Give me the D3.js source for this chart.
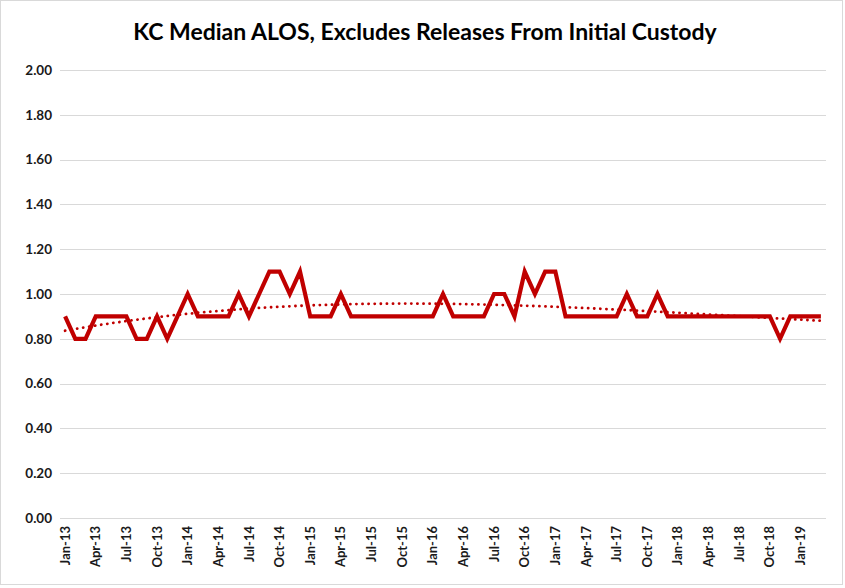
<!DOCTYPE html>
<html>
<head>
<meta charset="utf-8">
<script src="https://cdn.jsdelivr.net/npm/d3@7"></script>
<style>
  html, body { margin: 0; padding: 0; background: #fff; }
  svg { display: block; }
</style>
</head>
<body>
<script>
const title = "KC Median ALOS, Excludes Releases From Initial Custody";

const categories = [
  "Jan-13","Feb-13","Mar-13","Apr-13","May-13","Jun-13","Jul-13","Aug-13","Sep-13","Oct-13","Nov-13","Dec-13",
  "Jan-14","Feb-14","Mar-14","Apr-14","May-14","Jun-14","Jul-14","Aug-14","Sep-14","Oct-14","Nov-14","Dec-14",
  "Jan-15","Feb-15","Mar-15","Apr-15","May-15","Jun-15","Jul-15","Aug-15","Sep-15","Oct-15","Nov-15","Dec-15",
  "Jan-16","Feb-16","Mar-16","Apr-16","May-16","Jun-16","Jul-16","Aug-16","Sep-16","Oct-16","Nov-16","Dec-16",
  "Jan-17","Feb-17","Mar-17","Apr-17","May-17","Jun-17","Jul-17","Aug-17","Sep-17","Oct-17","Nov-17","Dec-17",
  "Jan-18","Feb-18","Mar-18","Apr-18","May-18","Jun-18","Jul-18","Aug-18","Sep-18","Oct-18","Nov-18","Dec-18",
  "Jan-19","Feb-19","Mar-19"
];

const medianALOS = [
  0.9,0.8,0.8,0.9,0.9,0.9,0.9,0.8,0.8,0.9,0.8,0.9,
  1.0,0.9,0.9,0.9,0.9,1.0,0.9,1.0,1.1,1.1,1.0,1.1,
  0.9,0.9,0.9,1.0,0.9,0.9,0.9,0.9,0.9,0.9,0.9,0.9,
  0.9,1.0,0.9,0.9,0.9,0.9,1.0,1.0,0.9,1.1,1.0,1.1,
  1.1,0.9,0.9,0.9,0.9,0.9,0.9,1.0,0.9,0.9,1.0,0.9,
  0.9,0.9,0.9,0.9,0.9,0.9,0.9,0.9,0.9,0.9,0.8,0.9,
  0.9,0.9,0.9
];

const xTickLabels = [
  "Jan-13","Apr-13","Jul-13","Oct-13","Jan-14","Apr-14","Jul-14","Oct-14","Jan-15","Apr-15","Jul-15","Oct-15",
  "Jan-16","Apr-16","Jul-16","Oct-16","Jan-17","Apr-17","Jul-17","Oct-17","Jan-18","Apr-18","Jul-18","Oct-18","Jan-19"
];

const yTicks = [0, 0.2, 0.4, 0.6, 0.8, 1.0, 1.2, 1.4, 1.6, 1.8, 2.0];

// Polynomial least-squares trendline (like Excel's polynomial trendline)
function polyFit(ys, order) {
  const n = ys.length;
  const xs = ys.map((_, i) => (i - (n - 1) / 2) / ((n - 1) / 2));
  const m = order + 1;
  const A = Array.from({length: m}, () => new Array(m + 1).fill(0));
  for (let k = 0; k < n; k++) {
    const p = [];
    for (let j = 0; j < m; j++) p.push(Math.pow(xs[k], j));
    for (let r = 0; r < m; r++) {
      for (let c = 0; c < m; c++) A[r][c] += p[r] * p[c];
      A[r][m] += p[r] * ys[k];
    }
  }
  for (let c = 0; c < m; c++) {
    let piv = c;
    for (let r = c + 1; r < m; r++) if (Math.abs(A[r][c]) > Math.abs(A[piv][c])) piv = r;
    [A[c], A[piv]] = [A[piv], A[c]];
    for (let r = 0; r < m; r++) {
      if (r === c) continue;
      const f = A[r][c] / A[c][c];
      for (let cc = c; cc <= m; cc++) A[r][cc] -= f * A[c][cc];
    }
  }
  const coef = A.map((row, i) => row[m] / row[i]);
  return xs.map(x => coef.reduce((s, cf, j) => s + cf * Math.pow(x, j), 0));
}
const trend = polyFit(medianALOS, 3);

const W = 845, H = 588;
const svg = d3.select("body").append("svg").attr("width", W).attr("height", H);

svg.append("rect").attr("x", 0.5).attr("y", 0.5).attr("width", W - 3).attr("height", H - 4)
  .attr("fill", "#fff").attr("stroke", "#d9d9d9").attr("stroke-width", 1);

const x = d3.scaleBand().domain(categories).range([60, 826]).padding(0);
const xc = d => x(d) + x.bandwidth() / 2;
const y = d3.scaleLinear().domain([0, 2]).range([518, 70]);

svg.append("text")
  .attr("x", 425).attr("y", 40)
  .attr("text-anchor", "middle")
  .attr("font-family", "Lato, 'Open Sans', sans-serif")
  .attr("font-weight", "bold")
  .attr("font-size", 23)
  .attr("fill", "#000")
  .text(title);

// gridlines
svg.append("g").selectAll("line").data(yTicks).join("line")
  .attr("x1", 60).attr("x2", 826)
  .attr("y1", d => Math.round(y(d)) + 0.5).attr("y2", d => Math.round(y(d)) + 0.5)
  .attr("stroke", "#d9d9d9").attr("stroke-width", 1);

// y axis labels
const yAxis = d3.axisLeft(y).tickValues(yTicks).tickFormat(d3.format(".2f")).tickSize(0).tickPadding(0);
const gy = svg.append("g").attr("transform", "translate(52,0)").call(yAxis);
gy.select(".domain").remove();
gy.selectAll("text")
  .attr("font-family", "Lato, 'Open Sans', sans-serif")
  .attr("font-weight", "bold").attr("font-size", 13.5).attr("fill", "#1a1a1a");

// x axis labels
const xAxis = d3.axisBottom(x).tickValues(xTickLabels).tickSize(0).tickPadding(0);
const gx = svg.append("g").attr("transform", "translate(0,518)").call(xAxis);
gx.select(".domain").remove();
gx.selectAll("text")
  .attr("font-family", "Lato, 'Open Sans', sans-serif")
  .attr("font-weight", "bold").attr("font-size", 13).attr("fill", "#1a1a1a")
  .attr("text-anchor", "end")
  .attr("dy", "0.35em")
  .attr("transform", "translate(0,8) rotate(-90)")
  .attr("y", 0).attr("x", 0);

// main line
svg.append("path")
  .datum(medianALOS)
  .attr("fill", "none")
  .attr("stroke", "#c00000")
  .attr("stroke-width", 4.2)
  .attr("stroke-linejoin", "miter")
  .attr("d", d3.line().x((d, i) => xc(categories[i])).y(d => y(d)));

// trendline (dotted)
svg.append("path")
  .datum(trend)
  .attr("fill", "none")
  .attr("stroke", "#c00000")
  .attr("stroke-width", 2.8)
  .attr("stroke-linecap", "round")
  .attr("stroke-dasharray", "0.1 6")
  .attr("d", d3.line().curve(d3.curveMonotoneX).x((d, i) => xc(categories[i])).y(d => y(d)));
</script>
</body>
</html>
